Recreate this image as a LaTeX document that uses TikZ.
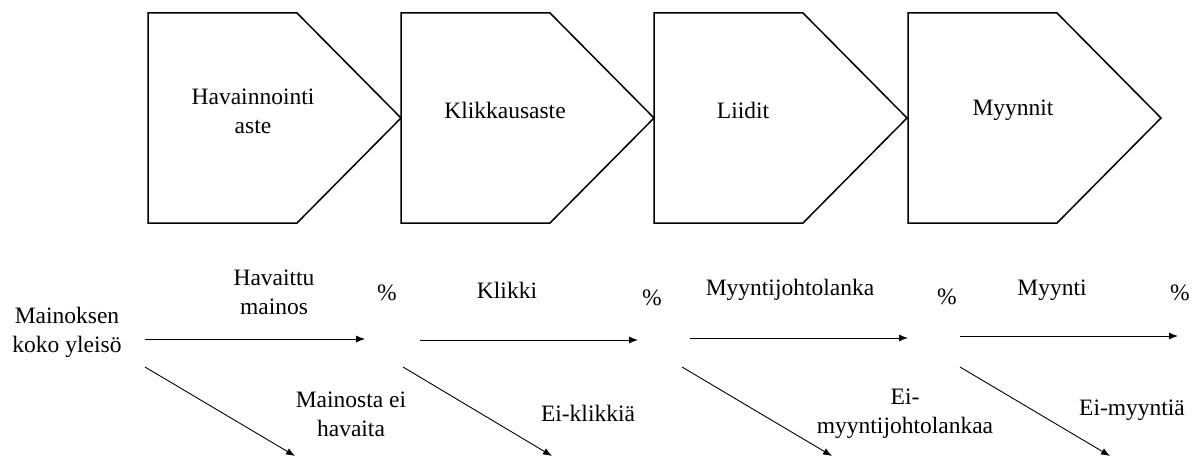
\documentclass[tikz,border=0pt]{standalone}
\usepackage{fontspec}
\setmainfont{Liberation Serif}
\usetikzlibrary{arrows.meta}
\begin{document}
\begin{tikzpicture}[x=1pt,y=-1pt,
  every node/.style={font=\fontsize{23.5}{29}\selectfont, inner sep=0pt, align=center},
  stage/.style={draw=black, line width=1.5pt, line join=miter},
  flow/.style={draw=black, line width=0.9pt, -{Latex[length=9pt,width=7pt]}}]
\useasboundingbox (0,0) rectangle (1204,457);

% funnel stages
\foreach \x in {148,401,654,908}
  \draw[stage] (\x,13) -- (\x+149,13) -- (\x+253,118) -- (\x+149,223) -- (\x,223) -- cycle;
\node (s1) at (253,111) {Havainnointi\\aste};
\node (s2) at (505,110) {Klikkausaste};
\node (s3) at (743,110) {Liidit};
\node (s4) at (1013,110) {Myynnit};

% audience and outcome labels
\node (aud) at (67,332) {Mainoksen\\koko yleisö};
\node (l1) at (274,292) {Havaittu\\mainos};
\node (p1) at (387,293) {\%};
\node (n1) at (351,414) {Mainosta ei\\havaita};
\node (l2) at (507,290) {Klikki};
\node (p2) at (652,298) {\%};
\node (n2) at (588,413) {Ei-klikkiä};
\node (l3) at (790,290) {Myyntijohtolanka};
\node (p3) at (947,297) {\%};
\node (n3) at (905,414) {Ei-\\myyntijohtolankaa};
\node (l4) at (1052,290) {Myynti};
\node (p4) at (1180,293) {\%};
\node (n4) at (1132,410) {Ei-myyntiä};

% arrow end points
\coordinate (h1a) at (145,339); \coordinate (h1b) at (365,339);
\coordinate (d1a) at (145,367); \coordinate (d1b) at (295,456);
\coordinate (h2a) at (420,340); \coordinate (h2b) at (638,340);
\coordinate (d2a) at (403,367); \coordinate (d2b) at (552,456);
\coordinate (h3a) at (690,338); \coordinate (h3b) at (908,338);
\coordinate (d3a) at (682,367); \coordinate (d3b) at (832,456);
\coordinate (h4a) at (960,336); \coordinate (h4b) at (1178,336);
\coordinate (d4a) at (960,367); \coordinate (d4b) at (1110,456);

\foreach \i in {1,2,3,4} {
  \draw[flow] (h\i a) -- (h\i b);
  \draw[flow] (d\i a) -- (d\i b);
}
\end{tikzpicture}
\end{document}
